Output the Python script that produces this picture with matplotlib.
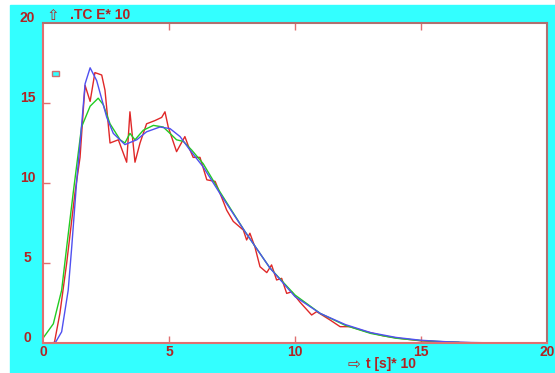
import matplotlib
matplotlib.use("Agg")
import matplotlib.pyplot as plt
from matplotlib.patches import Rectangle

plt.rcParams['font.family'] = ['Liberation Sans', 'DejaVu Sans']

# red: raw, noisy curve
red_x = [0.45, 0.67, 0.94, 1.27, 1.47, 1.6, 1.67, 1.87, 2.06, 2.33, 2.46, 2.66,
         2.99, 3.32, 3.45, 3.65, 3.85, 4.11, 4.44, 4.71, 4.84, 4.97, 5.3, 5.63,
         5.77, 5.96, 6.23, 6.5, 6.83, 7.09, 7.29, 7.55, 7.95, 8.08, 8.21, 8.41,
         8.61, 8.88, 9.07, 9.27, 9.47, 9.67, 9.87, 10.2, 10.66, 10.86, 11.39,
         11.79, 12.18, 12.85, 13.5, 14.1, 14.96, 15.6, 16.5, 17.8]
red_y = [0.0, 1.85, 5.0, 9.4, 11.6, 14.6, 16.1, 15.1, 16.9, 16.75, 15.8, 12.5,
         12.7, 11.3, 14.45, 11.3, 12.5, 13.7, 13.9, 14.1, 14.45, 13.5, 11.96, 12.9,
         12.3, 11.6, 11.6, 10.2, 10.1, 9.1, 8.3, 7.6, 7.06, 6.44, 6.86, 6.0,
         4.77, 4.4, 4.88, 3.94, 4.04, 3.1, 3.2, 2.55, 1.75, 1.96, 1.44,
         1.02, 1.02, 0.7, 0.45, 0.3, 0.14, 0.08, 0.03, 0.0]

# green: smoothed curve
green_x = [0.0, 0.41, 0.74, 0.94, 1.2, 1.53, 1.87, 2.19, 2.39, 2.66, 3.06, 3.25,
           3.45, 3.65, 3.98, 4.38, 4.77, 5.04, 5.3, 5.57, 5.9, 6.36, 7.0, 8.0,
           9.0, 10.0, 11.0, 12.0, 13.0, 14.0, 15.0, 16.0, 16.5]
green_y = [0.3, 1.2, 3.3, 6.0, 9.4, 13.5, 14.8, 15.3, 14.9, 13.7, 12.7, 12.5,
           13.1, 12.7, 13.3, 13.6, 13.5, 13.1, 12.7, 12.6, 12.06, 11.2, 9.5, 7.0,
           4.7, 3.0, 1.85, 1.1, 0.6, 0.3, 0.15, 0.07, 0.05]

# blue: fitted curve
blue_x = [0.3, 0.5, 0.74, 1.0, 1.14, 1.34, 1.5, 1.67, 1.87, 2.13, 2.53, 2.79,
          3.25, 3.72, 4.11, 4.64, 5.04, 5.44, 5.83, 6.36, 7.02, 8.0, 9.0, 10.0,
          11.0, 12.0, 13.0, 14.0, 15.0, 16.0, 17.0, 17.8]
blue_y = [0.0, 0.05, 0.7, 3.3, 6.0, 10.2, 13.0, 16.2, 17.2, 16.4, 14.1, 13.1,
          12.4, 12.7, 13.2, 13.5, 13.4, 12.9, 12.06, 11.0, 9.35, 7.0, 4.7, 2.9,
          1.85, 1.15, 0.65, 0.35, 0.17, 0.08, 0.03, 0.01]

ticks = [0, 5, 10, 15, 20]
lab_col = '#b02424'
tick_col = '#e07070'

fig = plt.figure(figsize=(5.55, 3.73), dpi=100)
fig.patch.set_facecolor('white')
fig.patches.append(Rectangle((10 / 555, 0), 545 / 555, 368 / 373,
                             transform=fig.transFigure, color='#33ffff', zorder=-5))

ax = fig.add_axes([43 / 555, 30 / 373, 504 / 555, 320 / 373], zorder=2)
ax.set_facecolor('white')
ax.plot(red_x, red_y, color='#e02828', lw=1.0)
ax.plot(green_x, green_y, color='#22cc22', lw=1.0)
ax.plot(blue_x, blue_y, color='#5050f0', lw=1.0)

ax.set_xlim(0, 20)
ax.set_ylim(0, 20)
ax.set_xticks(ticks[1:-1])
ax.set_yticks(ticks[1:-1])
ax.tick_params(direction='in', length=5, width=1, color=tick_col, top=True,
               labelbottom=False, labelleft=False)
for s in ['left', 'bottom']:
    ax.spines[s].set_color('#e07070')
    ax.spines[s].set_linewidth(1.5)
for s in ['top', 'right']:
    ax.spines[s].set_color('#b07070')
    ax.spines[s].set_linewidth(1.5)

# tick labels drawn as text, like the original terminal-style plot
for t in ticks:
    ax.text(-0.62, t + 0.3, str(t), color=lab_col, fontsize=10, fontweight='bold',
            ha='center', va='center', clip_on=False)
    ax.text(t, -0.15, str(t), color=lab_col, fontsize=10, fontweight='bold',
            ha='center', va='top', clip_on=False)

fig.text(46 / 555, 1 - 15 / 373, '\u21e7', color=lab_col, fontsize=11,
         family=['DejaVu Sans'], va='center', zorder=3)
fig.text(70 / 555, 1 - 15 / 373, '.TC E* 10', color=lab_col, fontsize=10,
         fontweight='bold', va='center', zorder=3)
fig.text(347 / 555, 1 - 364 / 373, '\u21e8', color=lab_col, fontsize=11,
         family=['DejaVu Sans'], va='center', zorder=3)
fig.text(366 / 555, 1 - 364 / 373, 't [s]* 10', color=lab_col, fontsize=10,
         fontweight='bold', va='center', zorder=3)

# small legend box
ax.add_patch(Rectangle((52 / 555, 1 - 76 / 373), 7 / 555, 5 / 373,
                       transform=fig.transFigure, facecolor='#33ffff',
                       edgecolor='#d07070', lw=1.0, zorder=5, clip_on=False))

fig.savefig('out.png', dpi=100)
